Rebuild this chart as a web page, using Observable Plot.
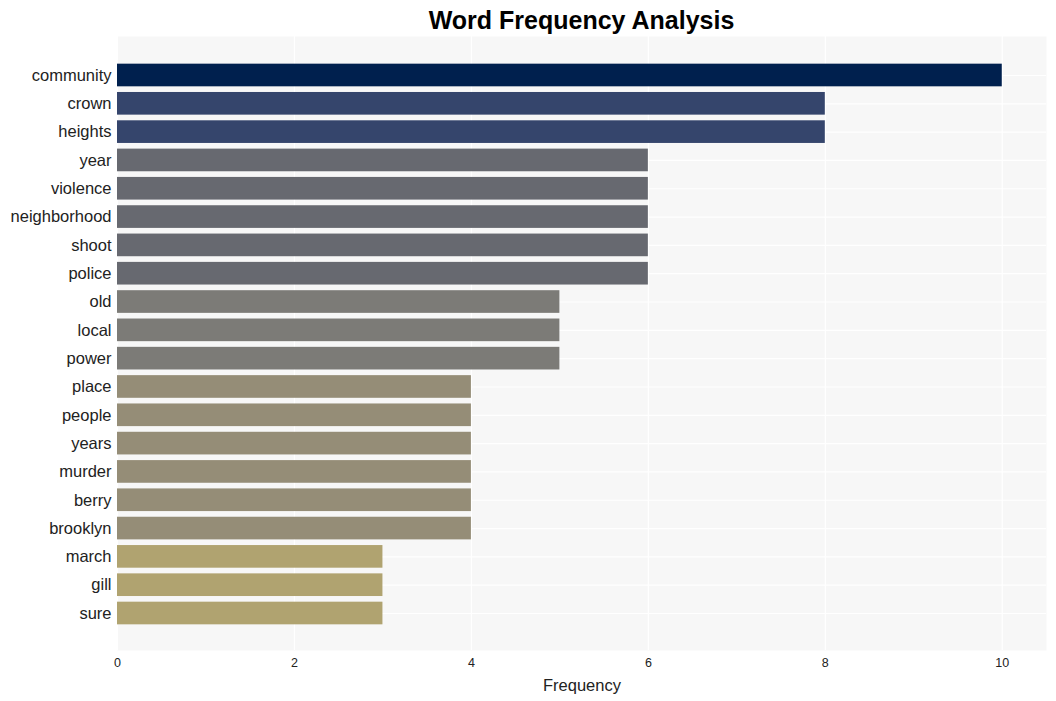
<!DOCTYPE html>
<html>
<head>
<meta charset="utf-8">
<script src="https://cdn.jsdelivr.net/npm/d3@7"></script>
<script src="https://cdn.jsdelivr.net/npm/@observablehq/plot@0.6"></script>
<style>
  body { margin: 0; background: #ffffff; font-family: "Liberation Sans", Arial, sans-serif; }
  #title { height: 36px; line-height: 40px; padding-left: 117px; width: 929px; text-align: center; font-weight: bold; font-size: 25px; color: #000; }
</style>
</head>
<body>
<div id="title">Word Frequency Analysis</div>
<div id="chart"></div>
<script>
const words = ["community","crown","heights","year","violence","neighborhood","shoot","police","old","local","power","place","people","years","murder","berry","brooklyn","march","gill","sure"];
const counts = [10,8,8,6,6,6,6,6,5,5,5,4,4,4,4,4,4,3,3,3];
const colorValues = [10,8,6,5,4,3];
const colorRange = ["#00204e","#35456c","#676970","#7c7b77","#958d77","#b0a370"];
const xTicks = [0,2,4,6,8,10];

const data = words.map((w, i) => ({word: w, count: counts[i]}));

const chart = Plot.plot({
  width: 1056,
  height: 665,
  marginTop: 0,
  marginBottom: 51,
  marginLeft: 117,
  marginRight: 10,
  style: { fontFamily: "Liberation Sans, Arial, sans-serif", fontSize: "12px", color: "#222" },
  x: { domain: [0, 10.5], ticks: xTicks, tickSize: 0, tickPadding: 8, label: "Frequency", labelAnchor: "center", labelArrow: "none", labelOffset: 40 },
  y: { domain: words, padding: 0.2, round: false, insetTop: 22, insetBottom: 20, tickSize: 0, tickPadding: 6, label: null },
  color: { domain: colorValues, range: colorRange, type: "ordinal" },
  marks: [
    Plot.frame({ fill: "#f7f7f7", stroke: null }),
    Plot.gridX(xTicks, { stroke: "#ffffff", strokeOpacity: 1, strokeWidth: 1.2 }),
    Plot.gridY(words, { stroke: "#ffffff", strokeOpacity: 1, strokeWidth: 1.2 }),
    Plot.barX(data, { x: "count", y: "word", fill: d => d.count }),
    Plot.axisY({ tickSize: 0, tickPadding: 6, fontSize: 16.5, fill: "#222" }),
    Plot.axisX({ ticks: xTicks, tickSize: 0, tickPadding: 8, fontSize: 12.5, label: "Frequency", labelAnchor: "center", labelArrow: "none", labelOffset: 40 })
  ]
});
chart.querySelectorAll('[aria-label="x-axis label"] text').forEach(t => { t.style.fontSize = "16.5px"; });
document.getElementById("chart").appendChild(chart);
</script>
</body>
</html>
